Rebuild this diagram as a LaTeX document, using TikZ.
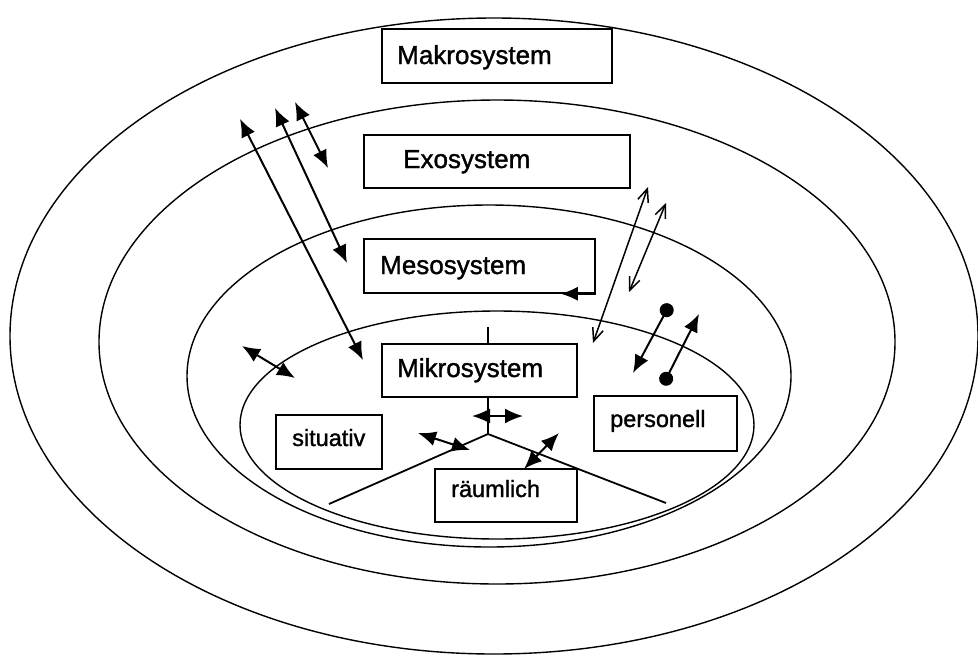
\documentclass[tikz,border=0pt]{standalone}
\usepackage{fontspec}
\setmainfont[FakeBold=1.3]{Liberation Sans}
\usetikzlibrary{arrows.meta}
\begin{document}
\begin{tikzpicture}[x=1pt,y=-1pt,
  ring/.style={line width=1.4pt},
  sysbox/.style={draw, line width=1.5pt, fill=white, rectangle, inner sep=0pt},
  bigtxt/.style={anchor=base west, inner sep=0pt, font=\fontsize{26}{30}\selectfont},
  smalltxt/.style={anchor=base west, inner sep=0pt, font=\fontsize{23.5}{26}\selectfont},
  fa/.style={line width=2pt, {Latex[length=18pt,width=15pt]}-{Latex[length=18pt,width=15pt]}},
  oa/.style={line width=1.5pt, {Straight Barb[length=13pt,width=11pt]}-{Straight Barb[length=13pt,width=11pt]}},
  da/.style={line width=2pt, {Circle[length=14pt]}-{Latex[length=18pt,width=15pt]}},
  tree/.style={line width=1.8pt}
]
\useasboundingbox (0,0) rectangle (978,657);
\fill[white] (0,0) rectangle (978,657);

% rings
\coordinate (cmakro) at (494,336);
\coordinate (cexo) at (497,342);
\coordinate (cmeso) at (489,376);
\coordinate (cmikro) at (497,425);
\draw[ring] (cmakro) ellipse [x radius=484, y radius=318];
\draw[ring] (cexo) ellipse [x radius=398, y radius=242];
\draw[ring] (cmeso) ellipse [x radius=302, y radius=171];
\draw[ring] (cmikro) ellipse [x radius=257, y radius=114];

% tree in microsystem
\coordinate (tt) at (488,327);
\coordinate (j) at (488,434);
\coordinate (tl) at (329,504);
\coordinate (tr) at (666,503);
\draw[tree] (j) -- (tl);
\draw[tree] (j) -- (tr);

% boxes
\node[sysbox, minimum width=230pt, minimum height=54pt] (makro) at (497,56) {};
\node[sysbox, minimum width=266pt, minimum height=53pt] (exo) at (497,161.5) {};
\node[sysbox, minimum width=231pt, minimum height=54pt] (meso) at (479.5,266) {};
\node[sysbox, minimum width=195pt, minimum height=53pt] (mikro) at (479.5,370.5) {};
\node[sysbox, minimum width=106pt, minimum height=54pt] (situ) at (329,442) {};
\node[sysbox, minimum width=143pt, minimum height=55pt] (pers) at (665.5,423.5) {};
\node[sysbox, minimum width=142pt, minimum height=53pt] (raum) at (506,495.5) {};

\node[bigtxt] (tmakro) at (397,64) {Makrosystem};
\node[bigtxt] (texo) at (403,168) {Exosystem};
\node[bigtxt] (tmeso) at (380,274) {Mesosystem};
\node[bigtxt] (tmikro) at (397,377) {Mikrosystem};
\node[smalltxt] (tsitu) at (292,446) {situativ};
\node[smalltxt] (tpers) at (610,427) {personell};
\node[smalltxt] (traum) at (451,497) {räumlich};

\draw[tree] (tt) -- (tt |- mikro.north);
\draw[tree] (j |- mikro.south) -- (j);

% left arrows
\coordinate (a1s) at (240,119); \coordinate (a1e) at (363,360);
\coordinate (a2s) at (275,108); \coordinate (a2e) at (347,263);
\coordinate (a3s) at (295,102); \coordinate (a3e) at (328,168);
\coordinate (a4s) at (242,346); \coordinate (a4e) at (295,378);
\draw[fa] (a1s) -- (a1e);
\draw[fa] (a2s) -- (a2e);
\draw[fa] (a3s) -- (a3e);
\draw[fa] (a4s) -- (a4e);

% right open arrows
\coordinate (o1s) at (648,187); \coordinate (o1e) at (593,343);
\coordinate (o2s) at (666,203); \coordinate (o2e) at (629,292);
\draw[oa] (o1s) -- (o1e);
\draw[oa] (o2s) -- (o2e);

% meso feedback arrow
\draw[line width=1.5pt, -{Latex[length=17pt,width=14pt]}] (meso.south east) -- ++(-35,0) coordinate (mfb);

% dot arrows
\coordinate (d1s) at (670,304); \coordinate (d1e) at (633,373);
\coordinate (d2s) at (663,385); \coordinate (d2e) at (699,314);
\draw[da] (d1s) -- (d1e);
\draw[da] (d2s) -- (d2e);

% bottom arrows
\coordinate (b1s) at (472,416); \coordinate (b1e) at (523,416);
\coordinate (b2s) at (418,433); \coordinate (b2e) at (470,450);
\coordinate (b3s) at (559,433); \coordinate (b3e) at (524,469);
\draw[fa] (b1s) -- (b1e);
\draw[fa] (b2s) -- (b2e);
\draw[fa] (b3s) -- (b3e);
\end{tikzpicture}
\end{document}
